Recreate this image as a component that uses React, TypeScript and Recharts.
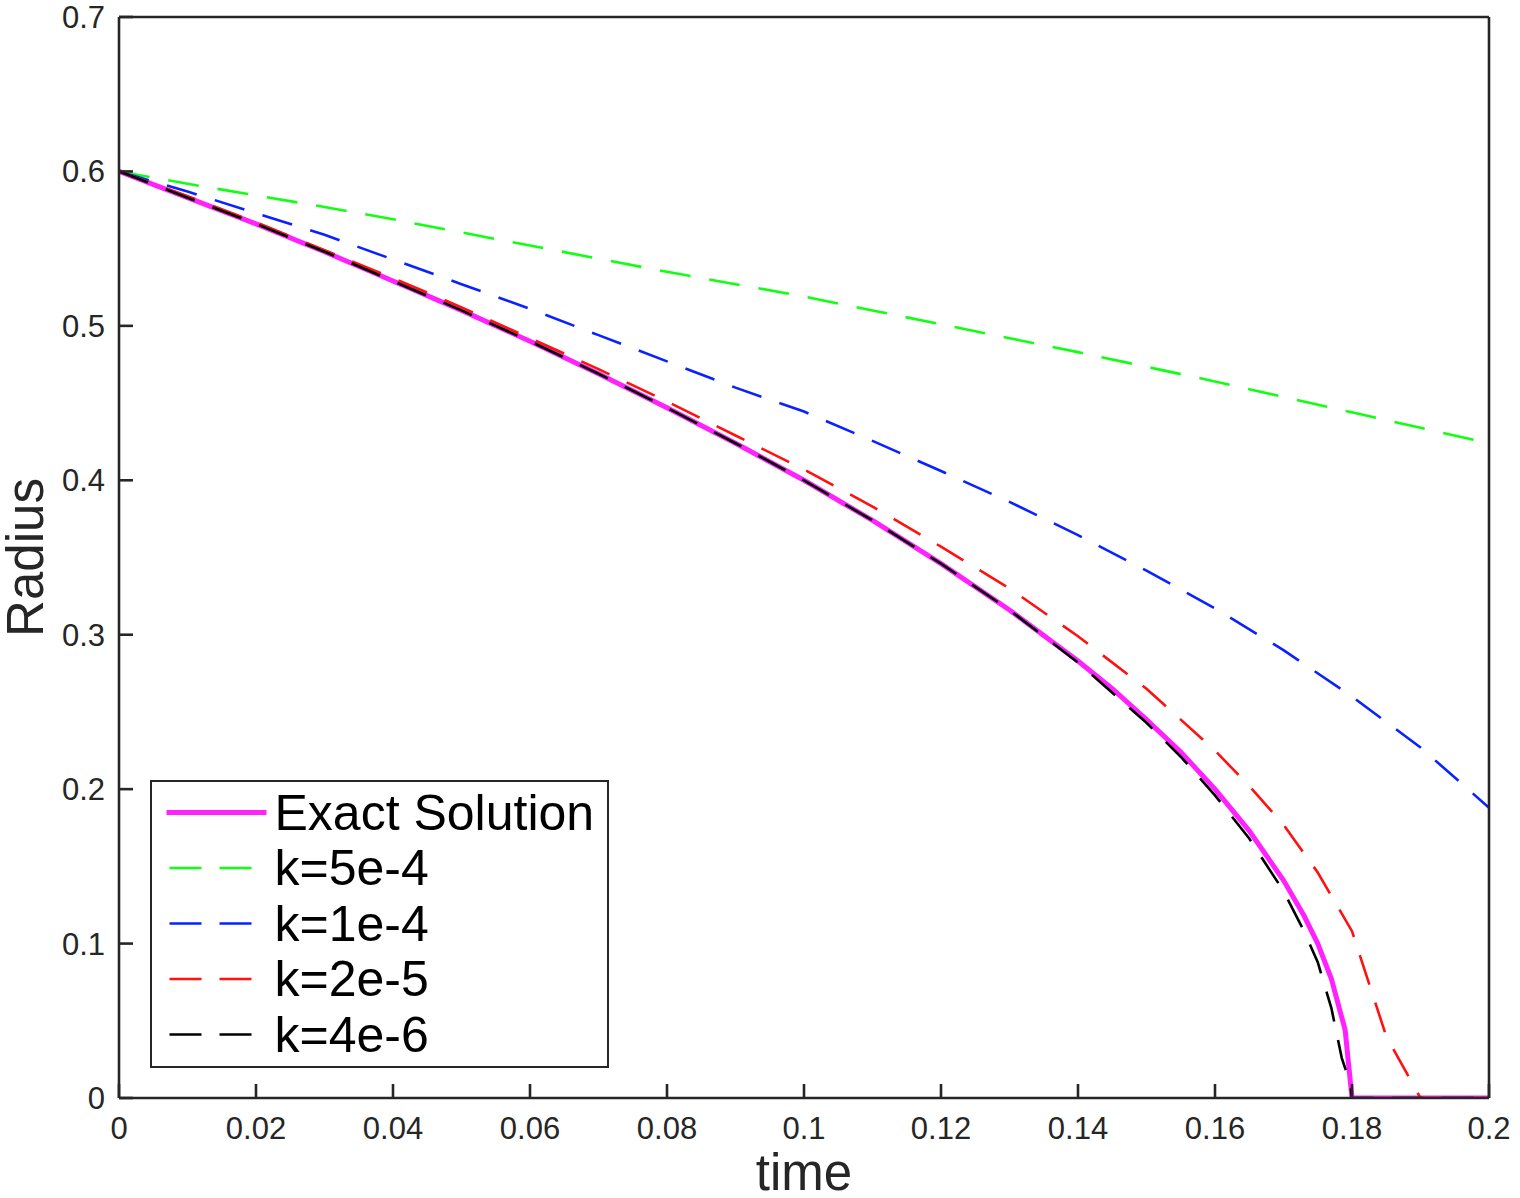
import React from "react";
import { LineChart, Line, XAxis, YAxis, Legend } from "recharts";

const AXIS = "#262626";
const FONT = '"Liberation Sans", Arial, Helvetica, sans-serif';

const xTicks = [0, 0.02, 0.04, 0.06, 0.08, 0.1, 0.12, 0.14, 0.16, 0.18, 0.2];
const xTickLabels = ["0", "0.02", "0.04", "0.06", "0.08", "0.1", "0.12", "0.14", "0.16", "0.18", "0.2"];
const yTicks = [0, 0.1, 0.2, 0.3, 0.4, 0.5, 0.6, 0.7];
const yTickLabels = ["0", "0.1", "0.2", "0.3", "0.4", "0.5", "0.6", "0.7"];

// Exact Solution
const exactT = [0, 0.01, 0.02, 0.03, 0.04, 0.05, 0.06, 0.07, 0.08, 0.09, 0.1, 0.11, 0.12, 0.13, 0.14, 0.145, 0.15, 0.155, 0.16, 0.165, 0.17, 0.173, 0.175, 0.177, 0.179, 0.18, 0.19, 0.2];
const exactR = [0.6, 0.583, 0.566, 0.548, 0.529, 0.51, 0.49, 0.469, 0.447, 0.424, 0.4, 0.374, 0.346, 0.316, 0.283, 0.265, 0.245, 0.224, 0.2, 0.173, 0.141, 0.118, 0.1, 0.077, 0.044, 0, 0, 0];

// k=5e-4
const k5e4T = [0, 0.01, 0.02, 0.03, 0.04, 0.05, 0.06, 0.07, 0.08, 0.09, 0.1, 0.11, 0.12, 0.13, 0.14, 0.15, 0.16, 0.17, 0.18, 0.19, 0.2];
const k5e4R = [0.6, 0.592, 0.5845, 0.577, 0.569, 0.5605, 0.552, 0.5435, 0.535, 0.527, 0.519, 0.51, 0.501, 0.492, 0.483, 0.4735, 0.464, 0.454, 0.444, 0.434, 0.424];

// k=1e-4
const k1e4T = [0, 0.01, 0.02, 0.03, 0.04, 0.05, 0.06, 0.07, 0.08, 0.09, 0.1, 0.11, 0.12, 0.13, 0.14, 0.15, 0.16, 0.17, 0.18, 0.19, 0.2];
const k1e4R = [0.6, 0.587, 0.573, 0.559, 0.543, 0.527, 0.511, 0.494, 0.477, 0.46, 0.4445, 0.4255, 0.406, 0.386, 0.3645, 0.3415, 0.317, 0.29, 0.26, 0.227, 0.188];

// k=2e-5
const k2e5T = [0, 0.01, 0.02, 0.03, 0.04, 0.05, 0.06, 0.07, 0.08, 0.09, 0.1, 0.11, 0.12, 0.13, 0.14, 0.15, 0.155, 0.16, 0.165, 0.17, 0.175, 0.18, 0.185, 0.19, 0.2];
const k2e5R = [0.6, 0.584, 0.567, 0.549, 0.531, 0.512, 0.492, 0.472, 0.451, 0.429, 0.407, 0.383, 0.357, 0.33, 0.299, 0.265, 0.245, 0.225, 0.202, 0.177, 0.146, 0.108, 0.04, 0, 0];

// k=4e-6
const k4e6T = [0, 0.01, 0.02, 0.03, 0.04, 0.05, 0.06, 0.07, 0.08, 0.09, 0.1, 0.11, 0.12, 0.13, 0.14, 0.15, 0.155, 0.16, 0.165, 0.17, 0.173, 0.175, 0.177, 0.1785, 0.1797, 0.18, 0.19, 0.2];
const k4e6R = [0.6, 0.583, 0.566, 0.548, 0.529, 0.51, 0.49, 0.469, 0.447, 0.424, 0.4, 0.374, 0.346, 0.316, 0.282, 0.243, 0.221, 0.196, 0.168, 0.134, 0.108, 0.088, 0.058, 0.026, 0.01, 0, 0, 0];

const toPoints = (ts: number[], rs: number[]) => ts.map((t, i) => ({ t, r: rs[i] }));

const series = [
  { name: "Exact Solution", data: toPoints(exactT, exactR), color: "#ff22ff", width: 5, dash: undefined as string | undefined },
  { name: "k=5e-4", data: toPoints(k5e4T, k5e4R), color: "#11ff11", width: 2.6, dash: "31 19" },
  { name: "k=1e-4", data: toPoints(k1e4T, k1e4R), color: "#0a22ff", width: 2.6, dash: "31 19" },
  { name: "k=2e-5", data: toPoints(k2e5T, k2e5R), color: "#ff1111", width: 2.6, dash: "31 19" },
  { name: "k=4e-6", data: toPoints(k4e6T, k4e6R), color: "#000000", width: 2.6, dash: "31 19" },
];

const BottomTick = ({ x, y, payload }: any) => (
  <g>
    <line x1={x} x2={x} y1={y - 19} y2={y - 33} stroke={AXIS} strokeWidth={2.6} />
    <text x={x} y={y} dy="0.71em" textAnchor="middle" fontSize={31} fontFamily={FONT} fill={AXIS}>
      {xTickLabels[xTicks.indexOf(payload.value)]}
    </text>
  </g>
);

const LeftTick = ({ x, y, payload }: any) => (
  <g>
    <line x1={x + 14} x2={x + 28} y1={y} y2={y} stroke={AXIS} strokeWidth={2.6} />
    <text x={x} y={y} dy="0.355em" textAnchor="end" fontSize={31} fontFamily={FONT} fill={AXIS}>
      {yTickLabels[yTicks.indexOf(payload.value)]}
    </text>
  </g>
);

const TopTick = ({ x, y }: any) => (
  <line x1={x} x2={x} y1={y} y2={y + 14} stroke={AXIS} strokeWidth={2.6} />
);

const RightTick = ({ x, y }: any) => (
  <line x1={x} x2={x - 14} y1={y} y2={y} stroke={AXIS} strokeWidth={2.6} />
);

const renderLegend = () => (
  <div style={{ width: 459, height: 288, border: `2.5px solid ${AXIS}`, boxSizing: "border-box", background: "#fff" }}>
    <svg width={454} height={283} style={{ display: "block" }}>
      {series.map((s, i) => {
        const cy = 30.5 + i * 55.5;
        return (
          <g key={s.name}>
            {s.dash ? (
              <line x1={17.5} x2={99.5} y1={cy} y2={cy} stroke={s.color} strokeWidth={s.width} strokeDasharray="32 18" />
            ) : (
              <line x1={14.5} x2={114.5} y1={cy} y2={cy} stroke={s.color} strokeWidth={s.width} />
            )}
            <text x={122.5} y={cy + 17} fontSize={50} fontFamily={FONT} fill="#000">
              {s.name}
            </text>
          </g>
        );
      })}
    </svg>
  </div>
);

export default function App() {
  return (
    <div style={{ position: "absolute", left: 0, top: 0, width: 1520, height: 1198, background: "#fff" }}>
      <LineChart width={1520} height={1198} margin={{ top: 16, right: 30, bottom: 0, left: 0 }}>
        <XAxis
          dataKey="t"
          type="number"
          domain={[0, 0.2]}
          ticks={xTicks}
          interval={0}
          height={100}
          tickSize={0}
          tickMargin={19}
          tickLine={false}
          tick={<BottomTick />}
          axisLine={{ stroke: AXIS, strokeWidth: 2.6 }}
          allowDataOverflow
          label={{ value: "time", position: "insideBottom", offset: 8, fontSize: 51, fontFamily: FONT, fill: AXIS }}
        />
        <XAxis
          xAxisId="top"
          orientation="top"
          dataKey="t"
          type="number"
          domain={[0, 0.2]}
          ticks={xTicks}
          interval={0}
          height={1}
          tickSize={0}
          tickMargin={0}
          tickLine={false}
          tick={<TopTick />}
          axisLine={{ stroke: AXIS, strokeWidth: 2.6 }}
        />
        <YAxis
          type="number"
          domain={[0, 0.7]}
          ticks={yTicks}
          interval={0}
          width={119}
          tickSize={0}
          tickMargin={14}
          tickLine={false}
          tick={<LeftTick />}
          axisLine={{ stroke: AXIS, strokeWidth: 2.6 }}
          allowDataOverflow
          label={(props: any) => {
            const vb = props && props.viewBox ? props.viewBox : { x: 0, y: 17, height: 1081 };
            const cx = vb.x + 43;
            const cy = vb.y + vb.height / 2;
            return (
              <text x={cx} y={cy} transform={`rotate(-90, ${cx}, ${cy})`} textAnchor="middle" fontSize={51} fontFamily={FONT} fill={AXIS}>
                Radius
              </text>
            );
          }}
        />
        <YAxis
          yAxisId="right"
          orientation="right"
          type="number"
          domain={[0, 0.7]}
          ticks={yTicks}
          interval={0}
          width={1}
          tickSize={0}
          tickMargin={0}
          tickLine={false}
          tick={<RightTick />}
          axisLine={{ stroke: AXIS, strokeWidth: 2.6 }}
        />
        {series.map((s) => (
          <Line
            key={s.name}
            data={s.data}
            dataKey="r"
            name={s.name}
            type="linear"
            stroke={s.color}
            strokeWidth={s.width}
            strokeDasharray={s.dash}
            dot={false}
            activeDot={false}
            isAnimationActive={false}
          />
        ))}
        <Legend
          layout="vertical"
          align="center"
          verticalAlign="middle"
          content={renderLegend}
          wrapperStyle={{ left: 150, top: 780, width: 459, height: 288, right: "auto", bottom: "auto" }}
        />
      </LineChart>
    </div>
  );
}
